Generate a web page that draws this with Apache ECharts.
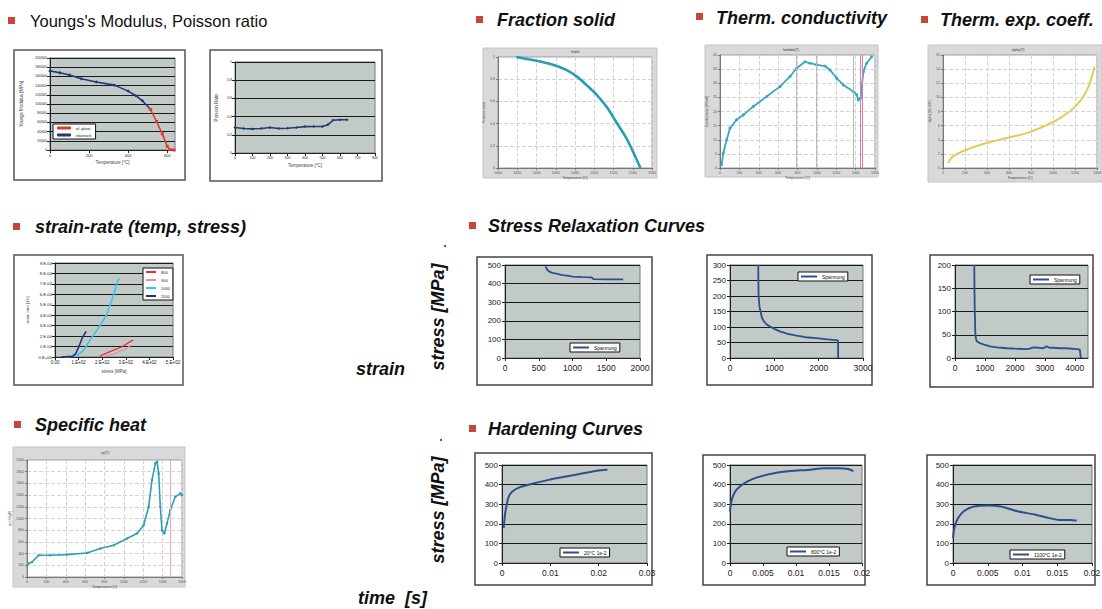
<!DOCTYPE html>
<html><head><meta charset="utf-8">
<script src="https://cdn.jsdelivr.net/npm/echarts/dist/echarts.min.js"></script>
<style>html,body{margin:0;padding:0;background:#fff}#c{width:1102px;height:609px}</style>
</head><body><div id="c"></div>
<script>
// ---------------- DATA ----------------
const youngsElastic = [[0,172000],[50,168000],[100,163000],[160,155000],[237,148000],[330,141000],[400,128000],[440,118000],[473,107000],[515,88000]];
const youngsPlastic = [[515,88000],[545,62000],[575,35000],[600,8000],[615,1000],[635,0]];
const youngsNames = ['el.-plast.','elastisch'];
const poissonRatio = [[0,0.28],[50,0.27],[100,0.265],[150,0.27],[200,0.28],[250,0.27],[300,0.272],[350,0.28],[400,0.29],[450,0.292],[500,0.292],[530,0.31],[560,0.36],[600,0.365],[640,0.365]];
const fractionSolid = [[1419,1.0],[1440,0.966],[1457,0.93],[1471,0.884],[1482,0.823],[1492,0.747],[1503,0.655],[1513,0.549],[1523,0.412],[1534,0.259],[1544,0.076],[1548,0]];
const thermCond = [[17,1.2],[34,5.3],[69,10.0],[103,14.1],[172,17.1],[241,18.8],[344,21.8],[482,25.3],[619,28.8],[723,32.4],[791,35.3],[877,37.6],[929,37.1],[998,36.5],[1084,36.1],[1135,34.7],[1204,31.8],[1273,29.4],[1376,27.1],[1411,25.9],[1428,24.1],[1452,24.7],[1480,34.1],[1514,37.1],[1566,39.4]];
const condPinkLines = [1445,1473];
const condGrayLines = [791,998,1376];
const thermExp = [[46,0.71],[91,1.65],[213,2.59],[396,3.53],[578,4.24],[761,4.94],[913,5.88],[1065,7.06],[1217,8.94],[1309,11.06],[1354,12.94],[1376,14.35]];
const strainRateNames = ['800','900','1000','1100'];
const srRed  = [[189,0.0000065],[230,0.000049],[284,0.000098],[331,0.000164]];
const srPink = [[200,0.000002],[250,0.00003],[300,0.00008],[320,0.00011]];
const srCyan = [[41,0],[88,0.0000065],[122,0.000065],[149,0.000164],[189,0.000295],[216,0.000393],[243,0.000556],[264,0.00072],[273,0.00075]];
const srBlue = [[27,0],[74,0.0000065],[88,0.000033],[101,0.000098],[115,0.00018],[132,0.000245]];
const specificHeat = [[17,229],[52,257],[120,371],[241,371],[413,383],[619,411],[757,486],[895,543],[1032,657],[1135,743],[1204,886],[1256,1200],[1290,1657],[1325,1943],[1342,1971],[1359,1771],[1376,1200],[1394,800],[1418,743],[1445,914],[1479,1143],[1531,1371],[1583,1429],[1600,1400]];
const heatPinkLines = [1480];
const relaxName = 'Spannung';
const relax1 = [[600,492],[620,478],[650,466],[700,458],[775,452],[850,446],[950,441],[1000,437],[1150,435],[1280,434],[1310,424],[1500,423],[1750,423]];
const relax2 = [[637,300],[640,250],[645,200],[652,187],[665,165],[690,150],[720,130],[765,118],[830,108],[900,102],[1000,94],[1125,86],[1300,78],[1500,72],[1700,67],[1950,64],[2200,60],[2437,57],[2440,0]];
const relax3 = [[644,200],[650,150],[660,100],[667,89],[675,60],[689,45],[722,36],[833,32],[1000,28],[1167,25],[1400,23],[1722,21],[2000,20],[2389,19],[2500,20],[2611,23],[2800,22],[2944,21],[3056,25],[3150,22],[3278,22],[3500,21],[3722,21],[4056,19],[4167,18],[4200,0]];
const hardNames = ['20°C 1e-2','800°C 1e-2','1100°C 1e-2'];
const hard1 = [[0.00036,178],[0.00057,237],[0.0009,288],[0.0014,339],[0.0021,364],[0.0036,386],[0.0061,403],[0.0096,424],[0.0132,441],[0.0168,458],[0.0196,471],[0.0218,476]];
const hard2 = [[0,263],[0.00026,322],[0.00077,364],[0.0015,390],[0.0026,415],[0.0041,437],[0.0067,458],[0.0092,469],[0.0118,475],[0.0144,483],[0.0164,483],[0.0179,480],[0.0187,469]];
const hard3 = [[0,127],[0.00025,186],[0.00074,229],[0.0015,263],[0.003,288],[0.005,294],[0.0069,288],[0.0094,263],[0.0119,246],[0.0139,229],[0.0153,220],[0.0168,220],[0.0178,217]];

// ---------------- BUILD ----------------
const R = 'Liberation Sans, Arial, sans-serif';
const XL_BG = '#c2cac7';
const grids=[], xAxes=[], yAxes=[], series=[], legends=[], graphics=[];
const plainNum = v => String(+(+v).toFixed(6));

function frame(r, fill, stroke, lw){
  graphics.push({type:'rect', z:-10, shape:{x:r[0],y:r[1],width:r[2]-r[0],height:r[3]-r[1]}, style:{fill:fill, stroke:stroke, lineWidth:lw}});
}
function addGrid(p, bg, border){
  grids.push({left:p[0],top:p[1],width:p[2]-p[0],height:p[3]-p[1],show:true,backgroundColor:bg,borderColor:border,borderWidth:1,containLabel:false,outerBoundsMode:'none'});
  return grids.length-1;
}
function axis(i, kind, excel, o){
  const a = {gridIndex:i, type:'value', min:o.min, max:o.max, interval:o.interval,
    axisLine:{show:true,onZero:false,lineStyle:{color:excel?'#222':'#777',width:1}},
    axisTick:{show:true,inside:false,length:excel?3:2,lineStyle:{color:excel?'#222':'#777'}},
    axisLabel:{show:true,fontSize:o.fs,color:excel?'#1a1a1a':'#555',margin:o.margin||3,fontFamily:R,showMaxLabel:o.showMax!==false,formatter:o.fmt||plainNum},
    splitLine:{show:kind==='y' ? true : !excel, lineStyle:{color:excel?'#1a1a1a':'#d4d4d4',width:1,type:excel?'solid':'dashed'}},
    name:o.name||'', nameLocation:'middle', nameGap:o.gap||10,
    nameTextStyle:{fontSize:o.nfs||4.5,color:'#444',fontFamily:R}
  };
  (kind==='x'?xAxes:yAxes).push(a);
}
function addLine(i, name, data, color, width, extra){
  series.push(Object.assign({type:'line', name:name, data:data, xAxisIndex:i, yAxisIndex:i, showSymbol:false, symbol:'none',
    lineStyle:{color:color,width:width}, itemStyle:{color:color}, animation:false, z:3}, extra||{}));
}
function vLines(vals, color){
  return {symbol:'none', silent:true, label:{show:false}, lineStyle:{color:color,type:'solid',width:1}, data:vals.map(v=>({xAxis:v}))};
}
function addLegend(names, left, top, opts){
  legends.push(Object.assign({show:true, data:names, left:left, top:top, orient:'vertical', backgroundColor:'#fff',
    borderColor:'#111', borderWidth:1, borderRadius:0, padding:[1,3], itemGap:1, itemWidth:14, itemHeight:2, icon:'rect',
    textStyle:{fontSize:5,color:'#111',fontFamily:R}, selectedMode:false}, opts||{}));
}
function text(x, y, str, size, weight, style){
  graphics.push({type:'text', z:50, x:x, y:y, style:{text:str, fontSize:size, fontWeight:weight, fontStyle:style, fontFamily:R, fill:'#111', textVerticalAlign:'middle'}});
}
function smallTitle(x, y, str){
  graphics.push({type:'text', z:50, x:x, y:y, style:{text:str, fontSize:3.5, fontFamily:R, fill:'#333', textAlign:'center', textVerticalAlign:'middle'}});
}
function header(sqx, sqy, tx, ty, str, bold){
  graphics.push({type:'rect', z:50, shape:{x:sqx,y:sqy,width:7,height:7}, style:{fill:'#c8453d'}});
  text(tx, ty, str, bold?18:16.5, bold?'bold':'normal', bold?'italic':'normal');
}

// 1 Young's modulus
frame([14,50,185,180],'#fff','#555',1.5);
let g = addGrid([50,58,175,150], XL_BG, '#777');
axis(g,'x',true,{min:0,max:640,interval:200,fs:4,showMax:false,name:'Temperature [°C]',gap:10});
axis(g,'y',true,{min:0,max:200000,interval:20000,fs:3.5,name:'Youngs Modulus [MPa]',gap:26});
addLine(g, youngsNames[1], youngsElastic, '#23387a', 1.6, {showSymbol:true, symbol:'diamond', symbolSize:3.5});
addLine(g, youngsNames[0], youngsPlastic, '#e23a2e', 1.6, {showSymbol:true, symbol:'rect', symbolSize:3});
addLegend(youngsNames, 53, 124, {itemWidth:14, itemHeight:3, icon:'roundRect', itemGap:3, padding:[2,4], textStyle:{fontSize:4,color:'#111',fontFamily:R}});

// 2 Poisson ratio
frame([210,50,382,181],'#fff','#555',1.5);
g = addGrid([235,62,375,153], XL_BG, '#777');
axis(g,'x',true,{min:0,max:800,interval:100,fs:3.5,name:'Temperature [°C]',gap:10});
axis(g,'y',true,{min:0,max:1,interval:0.2,fs:3.5,name:'Poisson Ratio',gap:16});
addLine(g, 'Poisson', poissonRatio, '#23387a', 1.6, {showSymbol:true, symbol:'diamond', symbolSize:3});

// 3 Fraction solid
frame([483,48,657,178],'#d9d9d9','#c4c4c4',1);
g = addGrid([498,57,652,168], '#fff', '#999');
axis(g,'x',false,{min:1400,max:1560,interval:20,fs:3.5,name:'Temperature [C]',gap:7,nfs:3.5});
axis(g,'y',false,{min:0,max:1,interval:0.2,fs:3.5,name:'Fraction solid',gap:9,nfs:3.5});
addLine(g, 'fs', fractionSolid, '#2a9cb2', 2.6, {smooth:0.3});
smallTitle(575,52,'fsolid');

// 4 Thermal conductivity
frame([705,45,878,177],'#d9d9d9','#c4c4c4',1);
g = addGrid([720,55,875,168], '#fff', '#999');
axis(g,'x',false,{min:0,max:1600,interval:200,fs:3.5,name:'Temperature [C]',gap:7,nfs:3.5});
axis(g,'y',false,{min:0,max:40,interval:5,fs:3.5,name:'Conductivity [W/mK]',gap:9,nfs:3.5});
addLine(g, 'cond', thermCond, '#36a9c0', 1.8, {showSymbol:true, symbol:'circle', symbolSize:3, markLine:vLines(condPinkLines,'#e07aa8')});
addLine(g, 'condGrid', [], '#999', 1, {markLine:vLines(condGrayLines,'#b9b9b9')});
smallTitle(791,50,'lambda(T)');

// 5 Thermal expansion coefficient
frame([928,45,1102,182],'#d9d9d9','#c4c4c4',1);
g = addGrid([943,55,1097,168], '#fff', '#999');
axis(g,'x',false,{min:0,max:1400,interval:200,fs:3.5,name:'Temperature [C]',gap:7,nfs:3.5});
axis(g,'y',false,{min:0,max:16,interval:2,fs:3.5,name:'alpha [1e-5/K]',gap:9,nfs:3.5});
addLine(g, 'alpha', thermExp, '#e3cb57', 2, {smooth:0.3});
smallTitle(1018,50,'alpha(T)');

// 6 Strain rate
frame([14,255,183,385],'#fff','#555',1.5);
g = addGrid([55,263,173,357], XL_BG, '#777');
axis(g,'x',true,{min:0,max:500,interval:100,fs:4.5,name:'stress [MPa]',gap:12,nfs:4.5,fmt:v=>v===0?'0.00':Math.round(v/100)+'.E+02'});
axis(g,'y',true,{min:0,max:0.0009,interval:0.0001,fs:4.2,name:'strain rate [1/s]',gap:26,nfs:4.2,fmt:v=>v===0?'0.E+00':Math.round(v*1e4)+'.E-04'});
addLine(g, strainRateNames[0], srRed, '#e0352f', 1.2);
addLine(g, strainRateNames[1], srPink, '#f08cb4', 1.2);
addLine(g, strainRateNames[2], srCyan, '#38c8ee', 1.6);
addLine(g, strainRateNames[3], srBlue, '#1f2f86', 1.6);
addLegend(strainRateNames, 143, 268, {itemGap:4, itemWidth:10, padding:[2,3], textStyle:{fontSize:4,color:'#111',fontFamily:R}});

// 7 Specific heat
frame([13,447,185,587],'#d9d9d9','#c4c4c4',1);
g = addGrid([27,460,182,577], '#fff', '#999');
axis(g,'x',false,{min:0,max:1600,interval:200,fs:3.5,name:'Temperature [C]',gap:7,nfs:3.5});
axis(g,'y',false,{min:0,max:2000,interval:200,fs:3.5,name:'cp [J/kgK]',gap:9,nfs:3.5});
addLine(g, 'cp', specificHeat, '#2e9fb6', 1.6, {showSymbol:true, symbol:'circle', symbolSize:2.5, markLine:vLines(heatPinkLines,'#f0a6c4')});
smallTitle(105,453,'cp(T)');

// 8-10 Stress relaxation
const relaxBlue = '#2d4f8e';
frame([477,257,652,385],'#fff','#444',1.5);
g = addGrid([505,265,640,358], XL_BG, '#777');
axis(g,'x',true,{min:0,max:2000,interval:500,fs:8.5,margin:5});
axis(g,'y',true,{min:0,max:500,interval:100,fs:8,margin:4});
addLine(g, relaxName, relax1, relaxBlue, 1.8);
addLegend([relaxName], 570, 343, {itemWidth:16, padding:[2,3]});

frame([707,255,872,385],'#fff','#444',1.5);
g = addGrid([730,265,863,358], XL_BG, '#777');
axis(g,'x',true,{min:0,max:3000,interval:1000,fs:8.5,margin:5});
axis(g,'y',true,{min:0,max:300,interval:50,fs:8,margin:4});
addLine(g, relaxName, relax2, relaxBlue, 1.8);
addLegend([relaxName], 798, 272, {itemWidth:16, padding:[2,3]});

frame([930,255,1093,387],'#fff','#444',1.5);
g = addGrid([955,265,1088,358], XL_BG, '#777');
axis(g,'x',true,{min:0,max:4440,interval:1000,fs:8.5,margin:5,showMax:false});
axis(g,'y',true,{min:0,max:200,interval:50,fs:8,margin:4});
addLine(g, relaxName, relax3, relaxBlue, 1.8);
addLegend([relaxName], 1030, 275, {itemWidth:16, padding:[2,3]});

// 11-13 Hardening
frame([475,453,652,585],'#fff','#444',1.5);
g = addGrid([502,465,647,563], XL_BG, '#777');
axis(g,'x',true,{min:0,max:0.03,interval:0.01,fs:8.5,margin:5});
axis(g,'y',true,{min:0,max:500,interval:100,fs:8,margin:4});
addLine(g, hardNames[0], hard1, relaxBlue, 2, {smooth:0.3});
addLegend([hardNames[0]], 560, 548, {itemWidth:16, padding:[2,3]});

frame([703,455,865,585],'#fff','#444',1.5);
g = addGrid([730,465,862,563], XL_BG, '#777');
axis(g,'x',true,{min:0,max:0.02,interval:0.005,fs:8.5,margin:5});
axis(g,'y',true,{min:0,max:500,interval:100,fs:8,margin:4});
addLine(g, hardNames[1], hard2, relaxBlue, 2, {smooth:0.3});
addLegend([hardNames[1]], 787, 547, {itemWidth:16, padding:[2,3]});

frame([927,455,1095,585],'#fff','#444',1.5);
g = addGrid([953,465,1092,563], XL_BG, '#777');
axis(g,'x',true,{min:0,max:0.02,interval:0.005,fs:8.5,margin:5});
axis(g,'y',true,{min:0,max:500,interval:100,fs:8,margin:4});
addLine(g, hardNames[2], hard3, relaxBlue, 2, {smooth:0.3});
addLegend([hardNames[2]], 1010, 550, {itemWidth:16, padding:[2,3]});

// Headers & annotations
header(8,17,30,21,"Youngs's Modulus, Poisson ratio",false);
header(476,16,497,20,'Fraction solid',true);
header(696,13,716,18,'Therm. conductivity',true);
header(921,16,940,20,'Therm. exp. coeff.',true);
header(13,223,35,227,'strain-rate (temp, stress)',true);
header(469,222,488,226,'Stress Relaxation Curves',true);
header(14,421,35,425,'Specific heat',true);
header(469,425,488,429,'Hardening Curves',true);
text(356,369,'strain',18,'bold','italic');
text(358,598,'time  [s]',18,'bold','italic');
graphics.push({type:'text', z:50, x:438, y:317, rotation:Math.PI/2, style:{text:'stress [MPa]', fontSize:18, fontWeight:'bold', fontStyle:'italic', fontFamily:R, fill:'#111', textAlign:'center', textVerticalAlign:'middle'}});
graphics.push({type:'text', z:50, x:438, y:510, rotation:Math.PI/2, style:{text:'stress [MPa]', fontSize:18, fontWeight:'bold', fontStyle:'italic', fontFamily:R, fill:'#111', textAlign:'center', textVerticalAlign:'middle'}});
graphics.push({type:'circle', z:50, shape:{cx:445,cy:246,r:1}, style:{fill:'#333'}});
graphics.push({type:'circle', z:50, shape:{cx:441,cy:440,r:1}, style:{fill:'#333'}});

const chart = echarts.init(document.getElementById('c'), null, {renderer:'svg'});
chart.setOption({
  animation:false,
  backgroundColor:'#fff',
  textStyle:{fontFamily:R},
  grid:grids, xAxis:xAxes, yAxis:yAxes, series:series, legend:legends,
  graphic:{elements:graphics}
});
</script>
</body></html>
